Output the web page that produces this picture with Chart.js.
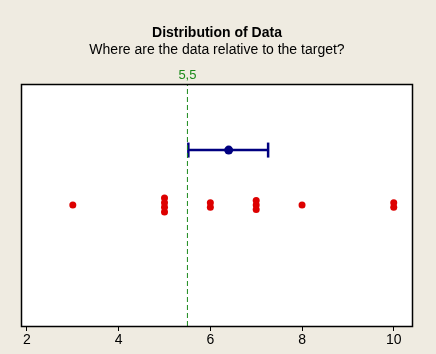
<!DOCTYPE html>
<html>
<head>
<meta charset="utf-8">
<script src="https://cdn.jsdelivr.net/npm/chart.js@4/dist/chart.umd.min.js"></script>
<style>
  html, body { margin: 0; padding: 0; background: #efebe1; }
  #wrap { width: 436px; height: 354px; }
</style>
</head>
<body>
<div id="wrap"><canvas id="myChart"></canvas></div>
<script>
// data
const values = [3, 5, 5, 5, 5, 6, 6, 7, 7, 7, 8, 10, 10];
const target = 5.5;
const meanValue = 6.4;
const interval = [5.52, 7.26];
const xTicks = [2, 4, 6, 8, 10];

const titleText = 'Distribution of Data';
const subtitleText = 'Where are the data relative to the target?';

// stack repeated values vertically, like an individual value plot
const dotRow = 0.5;
const barRow = 0.727;
const dotStep = 0.019;
const counts = {};
values.forEach(v => counts[v] = (counts[v] || 0) + 1);
const seen = {};
const dotPoints = values.map(v => {
    seen[v] = (seen[v] || 0);
    const idx = seen[v]++;
    return { x: v, y: dotRow + (idx - (counts[v] - 1) / 2) * dotStep };
});

const font = '"Liberation Sans", Arial, sans-serif';

const boxPlugin = {
    id: 'box',
    beforeDatasetsDraw(chart) {
        const { ctx, chartArea: a } = chart;
        ctx.save();
        ctx.fillStyle = '#ffffff';
        ctx.fillRect(a.left, a.top, a.right - a.left, a.bottom - a.top);
        ctx.restore();
    },
    afterDatasetsDraw(chart) {
        const { ctx, chartArea: a, scales } = chart;
        ctx.save();
        ctx.strokeStyle = '#000000';
        ctx.lineWidth = 1.5;
        ctx.strokeRect(a.left + 0.5, a.top + 0.5, a.right - a.left - 1, a.bottom - a.top);
        // target label
        ctx.fillStyle = '#1a8a1a';
        ctx.font = '13px ' + font;
        ctx.textAlign = 'center';
        ctx.textBaseline = 'middle';
        ctx.fillText(String(target).replace('.', ','), scales.x.getPixelForValue(target), a.top - 9);
        ctx.restore();
    }
};

const config = {
    type: 'scatter',
    data: {
        datasets: [
            {
                label: 'target',
                type: 'line',
                data: [{ x: target, y: 0 }, { x: target, y: 1 }],
                borderColor: '#1a8a1a',
                borderWidth: 1,
                borderDash: [5, 3],
                pointRadius: 0,
                showLine: true
            },
            {
                label: 'interval',
                type: 'line',
                data: [{ x: interval[0], y: barRow }, { x: interval[1], y: barRow }],
                borderColor: '#000080',
                borderWidth: 2.5,
                pointStyle: 'line',
                rotation: 90,
                pointRadius: 7.5,
                pointBorderWidth: 2.5,
                pointBorderColor: '#000080',
                showLine: true
            },
            {
                label: 'mean',
                data: [{ x: meanValue, y: barRow }],
                backgroundColor: '#000080',
                borderColor: '#000080',
                pointRadius: 4.5,
                borderWidth: 0
            },
            {
                label: 'data',
                data: dotPoints,
                backgroundColor: '#dd0000',
                borderColor: '#dd0000',
                pointRadius: 3.5,
                borderWidth: 0
            }
        ]
    },
    options: {
        maintainAspectRatio: false,
        responsive: true,
        animation: false,
        events: [],
        layout: {
            padding: { left: 21, right: 23, top: 0, bottom: 0 }
        },
        plugins: {
            legend: { display: false },
            tooltip: { enabled: false },
            title: {
                display: true,
                text: titleText,
                color: '#000000',
                font: { family: font, size: 14, weight: 'bold' },
                padding: { top: 25, bottom: 0 }
            },
            subtitle: {
                display: true,
                text: subtitleText,
                color: '#000000',
                font: { family: font, size: 14 },
                padding: { top: 0, bottom: 25.4 }
            }
        },
        scales: {
            x: {
                type: 'linear',
                min: 1.87,
                max: 10.42,
                afterBuildTicks: axis => {
                    axis.ticks = xTicks.map(v => ({ value: v }));
                },
                afterFit: axis => {
                    axis.height = 28;
                },
                border: { display: false },
                grid: {
                    drawOnChartArea: false,
                    drawTicks: true,
                    tickLength: 5,
                    color: '#000000'
                },
                ticks: {
                    color: '#000000',
                    padding: 1,
                    maxRotation: 0,
                    font: { family: font, size: 14 }
                }
            },
            y: {
                display: false,
                min: 0,
                max: 1
            }
        }
    },
    plugins: [boxPlugin]
};

const myChart = new Chart(document.getElementById('myChart'), config);
</script>
</body>
</html>
